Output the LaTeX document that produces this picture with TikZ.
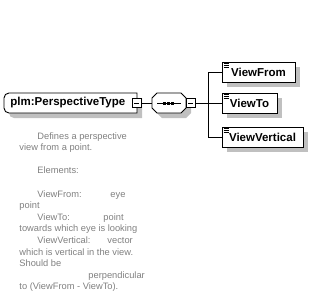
\documentclass[tikz,border=0pt]{standalone}
\usepackage{fontspec}
\setmainfont{Liberation Sans}
\usetikzlibrary{shadows}
\definecolor{shadowgray}{RGB}{192,192,192}
\definecolor{textgray}{RGB}{128,128,128}
\newcommand\docicon[1]{\foreach \d in {2,4,6} \draw[line width=0.7pt] ([shift={(2,\d)}]#1.north west) -- ++(5,0);}
\begin{document}
\begin{tikzpicture}[x=1pt,y=-1pt,
  line width=0.9pt,
  desc/.style={anchor=base west, inner sep=0pt, text=textgray, font=\fontsize{9.3}{11}\selectfont},
  lbl/.style={inner sep=0pt, font=\bfseries\fontsize{11.5}{13}\selectfont},
  elem/.style={lbl, draw, fill=white, minimum height=20pt,
    drop shadow={shadow xshift=5pt, shadow yshift=-5pt, fill=shadowgray, opacity=1}},
  minusbox/.style={draw, fill=white, minimum size=9pt, inner sep=0pt, line width=0.8pt,
    path picture={\draw[line width=0.8pt] ([xshift=2pt]path picture bounding box.west) -- ([xshift=-2pt]path picture bounding box.east);}}]
\useasboundingbox (0,0) rectangle (328,301);

% main complex type box
\fill[shadowgray, shift={(5,5)}] (137,93) [rounded corners=5pt] -- (4,93) -- (4,113) [sharp corners] -- (137,113) -- cycle;
\draw[fill=white] (137,93) [rounded corners=5pt] -- (4,93) -- (4,113) [sharp corners] -- (137,113) -- cycle;
\node[lbl, anchor=west] (main) at (10,103) {plm:PerspectiveType};
\node[minusbox] (m1) at (136.5,103) {};

% sequence compositor
\fill[shadowgray, shift={(5,5)}] (157,93) -- (181,93) -- (186,98) -- (186,108) -- (181,113) -- (157,113) -- (152,108) -- (152,98) -- cycle;
\draw[fill=white] (157,93) -- (181,93) -- (186,98) -- (186,108) -- (181,113) -- (157,113) -- (152,108) -- (152,98) -- cycle;
\node[inner sep=0pt, minimum width=34pt, minimum height=20pt] (seq) at (169,103) {};
\draw[line width=0.8pt] (157,103) -- (181,103);
\foreach \x in {163,167,171} \fill (\x,101.5) rectangle +(3,3);
\node[minusbox] (m2) at (190.5,103) {};

% child elements
\node[elem, minimum width=73pt] (vf) at (258.5,72) {ViewFrom};
\node[elem, minimum width=55pt] (vt) at (249.5,103) {ViewTo};
\node[elem, minimum width=81pt] (vv) at (262.5,137) {ViewVertical};
\docicon{vf}
\docicon{vt}
\docicon{vv}

% connectors
\coordinate (hub) at (208,103);
\draw (m1.east) -- (seq.west);
\draw (m2.east) -- (hub);
\draw (hub) |- (vf.west);
\draw (hub) -- (vt.west);
\draw (hub) |- (vv.west);

% documentation
\node[desc] (d1) at (37,139) {Defines a perspective};
\node[desc] (d2) at (19,150.6) {view from a point.};
\node[desc] (d3) at (37,173.8) {Elements:};
\node[desc] (d4) at (37,197) {ViewFrom:};
\node[desc] (d5) at (110,197) {eye};
\node[desc] (d6) at (19,208.6) {point};
\node[desc] (d7) at (37,220.2) {ViewTo:};
\node[desc] (d8) at (103,220.2) {point};
\node[desc] (d9) at (19,231.8) {towards which eye is looking};
\node[desc] (d10) at (37,243.4) {ViewVertical:};
\node[desc] (d11) at (107,243.4) {vector};
\node[desc] (d12) at (19,255) {which is vertical in the view.};
\node[desc] (d13) at (19,266.6) {Should be};
\node[desc] (d14) at (88,278.2) {perpendicular};
\node[desc] (d15) at (19,289.8) {to (ViewFrom - ViewTo).};
\end{tikzpicture}
\end{document}
